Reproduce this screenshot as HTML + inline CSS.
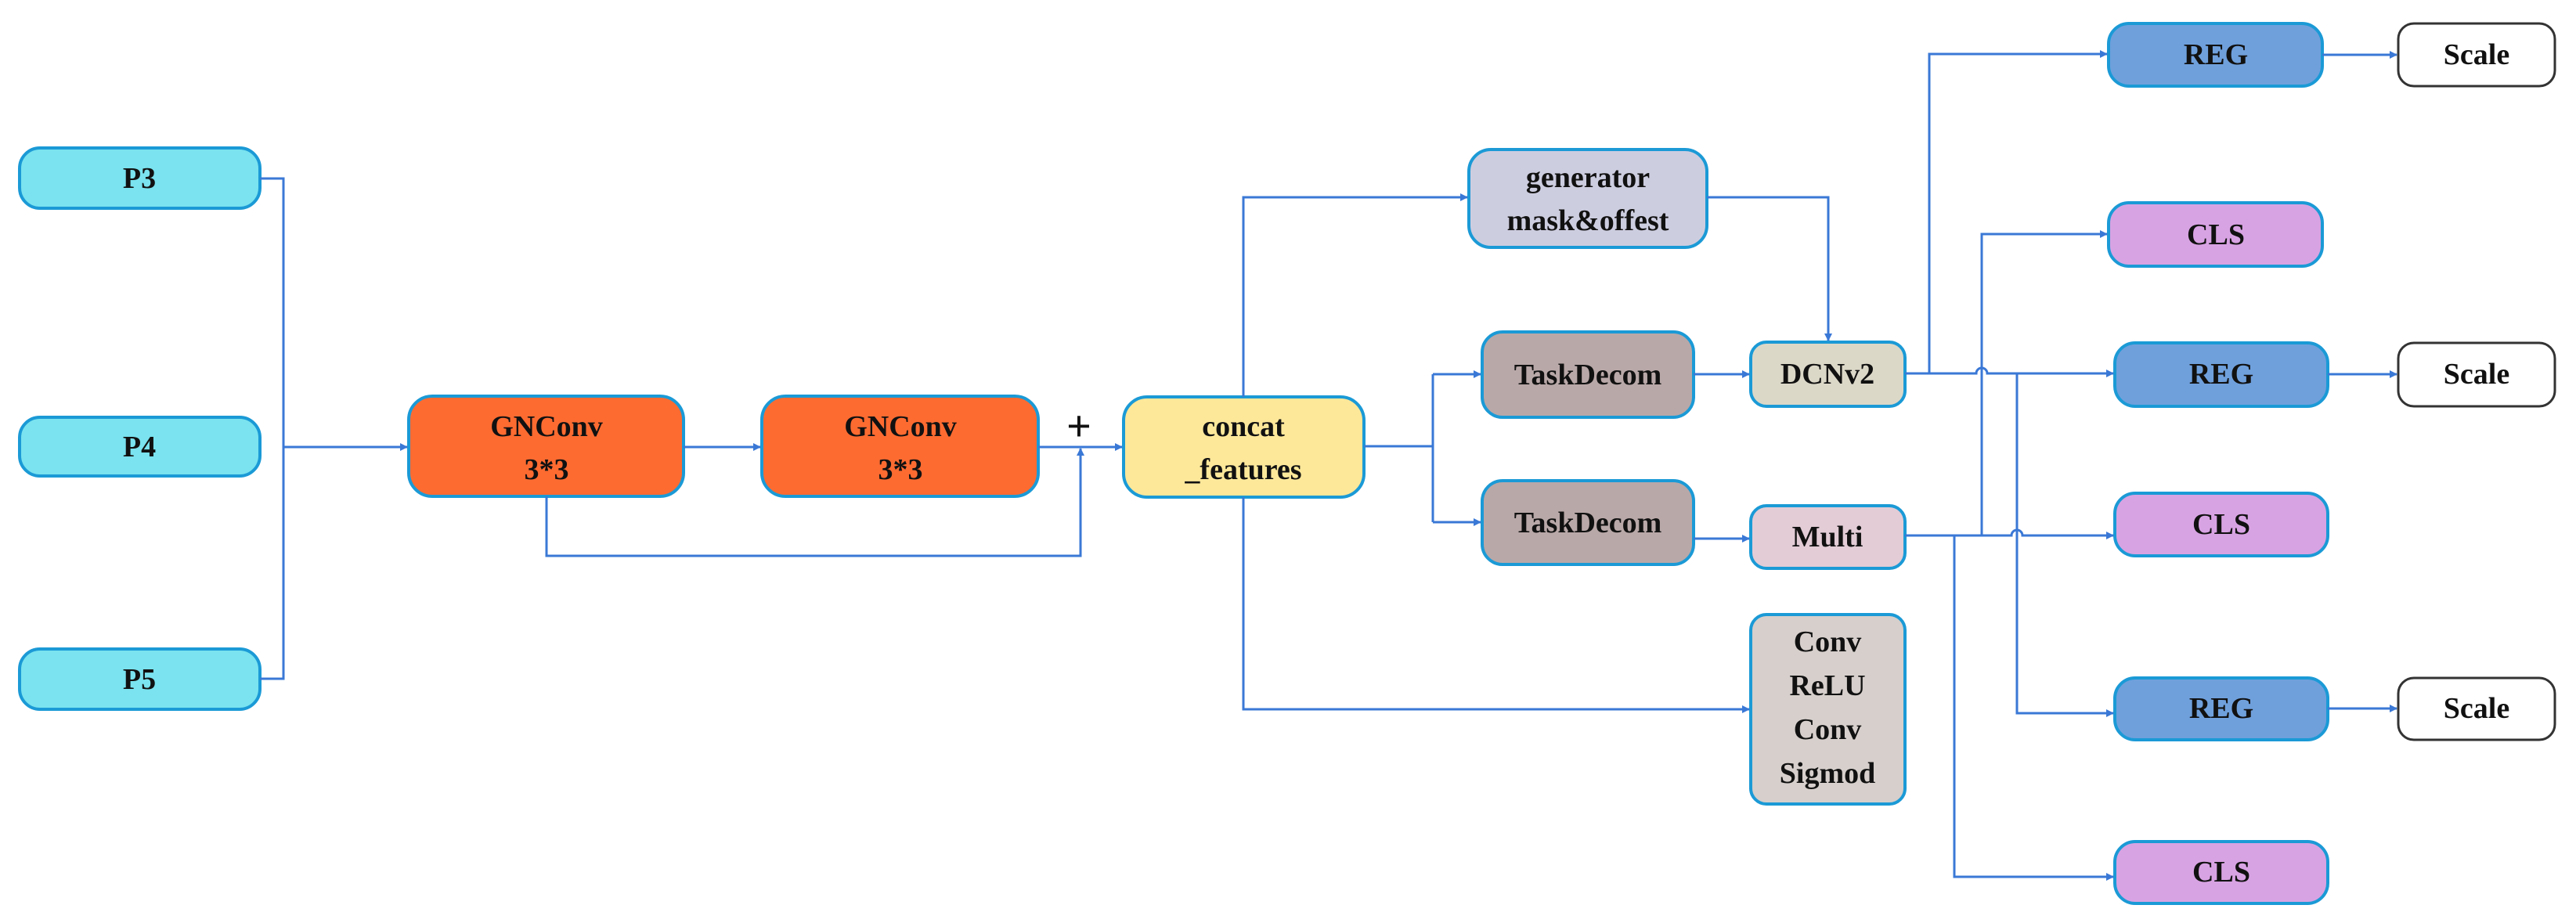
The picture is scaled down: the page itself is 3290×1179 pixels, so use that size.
<!DOCTYPE html>
<html><head><meta charset="utf-8"><style>
html,body{margin:0;padding:0;background:#fff}
svg{display:block}
text{font-family:"Liberation Serif",serif;font-weight:bold;fill:#111;text-anchor:middle;dominant-baseline:central}
.l{stroke:#3a78d6;stroke-width:3;fill:none}
</style></head><body>
<svg width="3290" height="1179" viewBox="0 0 3290 1179" xmlns="http://www.w3.org/2000/svg">
<defs><marker id="a" markerWidth="10" markerHeight="10" refX="9" refY="5" orient="auto" markerUnits="userSpaceOnUse"><path d="M0,0 L10,5 L0,10 z" fill="#3a78d6"/></marker></defs>
<g stroke-width="4">
<rect x="25" y="189" width="307" height="77" rx="26" fill="#7ae3ef" stroke="#1b9ad6"/>
<rect x="25" y="533" width="307" height="75" rx="26" fill="#7ae3ef" stroke="#1b9ad6"/>
<rect x="25" y="829" width="307" height="77" rx="26" fill="#7ae3ef" stroke="#1b9ad6"/>
<rect x="522" y="506" width="351" height="128" rx="30" fill="#fd6b31" stroke="#1b9ad6"/>
<rect x="973" y="506" width="353" height="128" rx="30" fill="#fd6b31" stroke="#1b9ad6"/>
<rect x="1435" y="507" width="307" height="128" rx="30" fill="#fde89a" stroke="#1b9ad6"/>
<rect x="1876" y="191" width="304" height="125" rx="28" fill="#cdcde0" stroke="#1b9ad6"/>
<rect x="1893" y="424" width="270" height="109" rx="26" fill="#b9a8a8" stroke="#1b9ad6"/>
<rect x="1893" y="614" width="270" height="107" rx="26" fill="#b9a8a8" stroke="#1b9ad6"/>
<rect x="2236" y="437" width="197" height="82" rx="20" fill="#dcd8c8" stroke="#1b9ad6"/>
<rect x="2236" y="646" width="197" height="80" rx="20" fill="#e3ccd6" stroke="#1b9ad6"/>
<rect x="2236" y="785" width="197" height="242" rx="20" fill="#d6cfcb" stroke="#1b9ad6"/>
<rect x="2693" y="30" width="273" height="80" rx="26" fill="#6fa0dc" stroke="#1b9ad6"/>
<rect x="2693" y="259" width="273" height="81" rx="26" fill="#d8a3e3" stroke="#1b9ad6"/>
<rect x="2701" y="438" width="272" height="81" rx="26" fill="#6fa0dc" stroke="#1b9ad6"/>
<rect x="2701" y="630" width="272" height="80" rx="26" fill="#d8a3e3" stroke="#1b9ad6"/>
<rect x="2701" y="866" width="272" height="79" rx="26" fill="#6fa0dc" stroke="#1b9ad6"/>
<rect x="2701" y="1075" width="272" height="79" rx="26" fill="#d8a3e3" stroke="#1b9ad6"/>
</g>
<g stroke-width="3" fill="#fff" stroke="#333">
<rect x="3063" y="30" width="200" height="80" rx="20"/>
<rect x="3063" y="438" width="200" height="81" rx="20"/>
<rect x="3063" y="866" width="200" height="79" rx="20"/>
</g>
<g class="l">
<path d="M332,228 H362 V867 H332"/>
<path d="M362,571 H520" marker-end="url(#a)"/>
<path d="M873,571 H971" marker-end="url(#a)"/>
<path d="M1326,571 H1433" marker-end="url(#a)"/>
<path d="M698,634 V710 H1380 V573" marker-end="url(#a)"/>
<path d="M1588,507 V252 H1874" marker-end="url(#a)"/>
<path d="M2180,252 H2335 V435" marker-end="url(#a)"/>
<path d="M1742,570 H1830"/>
<path d="M1830,478 V667"/>
<path d="M1830,478 H1891" marker-end="url(#a)"/>
<path d="M1830,667 H1891" marker-end="url(#a)"/>
<path d="M2163,478 H2234" marker-end="url(#a)"/>
<path d="M2163,688 H2234" marker-end="url(#a)"/>
<path d="M1588,635 V906 H2234" marker-end="url(#a)"/>
<path d="M2433,477 H2524 a7,7 0 0 1 14,0 H2699" marker-end="url(#a)"/>
<path d="M2464,477 V69 H2691" marker-end="url(#a)"/>
<path d="M2531,684 V299 H2691" marker-end="url(#a)"/>
<path d="M2576,477 V911 H2699" marker-end="url(#a)"/>
<path d="M2433,684 H2569 a7,7 0 0 1 14,0 H2699" marker-end="url(#a)"/>
<path d="M2496,684 V1120 H2699" marker-end="url(#a)"/>
<path d="M2966,70 H3061" marker-end="url(#a)"/>
<path d="M2973,478 H3061" marker-end="url(#a)"/>
<path d="M2973,905 H3061" marker-end="url(#a)"/>
</g>
<g font-size="38">
<text x="178" y="228">P3</text>
<text x="178" y="571">P4</text>
<text x="178" y="868">P5</text>
<text x="698" y="545">GNConv</text><text x="698" y="600">3*3</text>
<text x="1150" y="545">GNConv</text><text x="1150" y="600">3*3</text>
<text x="1588" y="545">concat</text><text x="1588" y="600">_features</text>
<text x="2028" y="227">generator</text><text x="2028" y="282">mask&amp;offest</text>
<text x="2028" y="479">TaskDecom</text>
<text x="2028" y="668">TaskDecom</text>
<text x="2334" y="478">DCNv2</text>
<text x="2334" y="686">Multi</text>
<text x="2334" y="820">Conv</text><text x="2334" y="876">ReLU</text><text x="2334" y="932">Conv</text><text x="2334" y="988">Sigmod</text>
<text x="2830" y="70">REG</text>
<text x="2830" y="300">CLS</text>
<text x="2837" y="478">REG</text>
<text x="2837" y="670">CLS</text>
<text x="2837" y="905">REG</text>
<text x="2837" y="1114">CLS</text>
<text x="3163" y="70">Scale</text>
<text x="3163" y="478">Scale</text>
<text x="3163" y="905">Scale</text>
<text x="1378" y="545" font-size="56" font-weight="normal">+</text>
</g>
</svg>
</body></html>
